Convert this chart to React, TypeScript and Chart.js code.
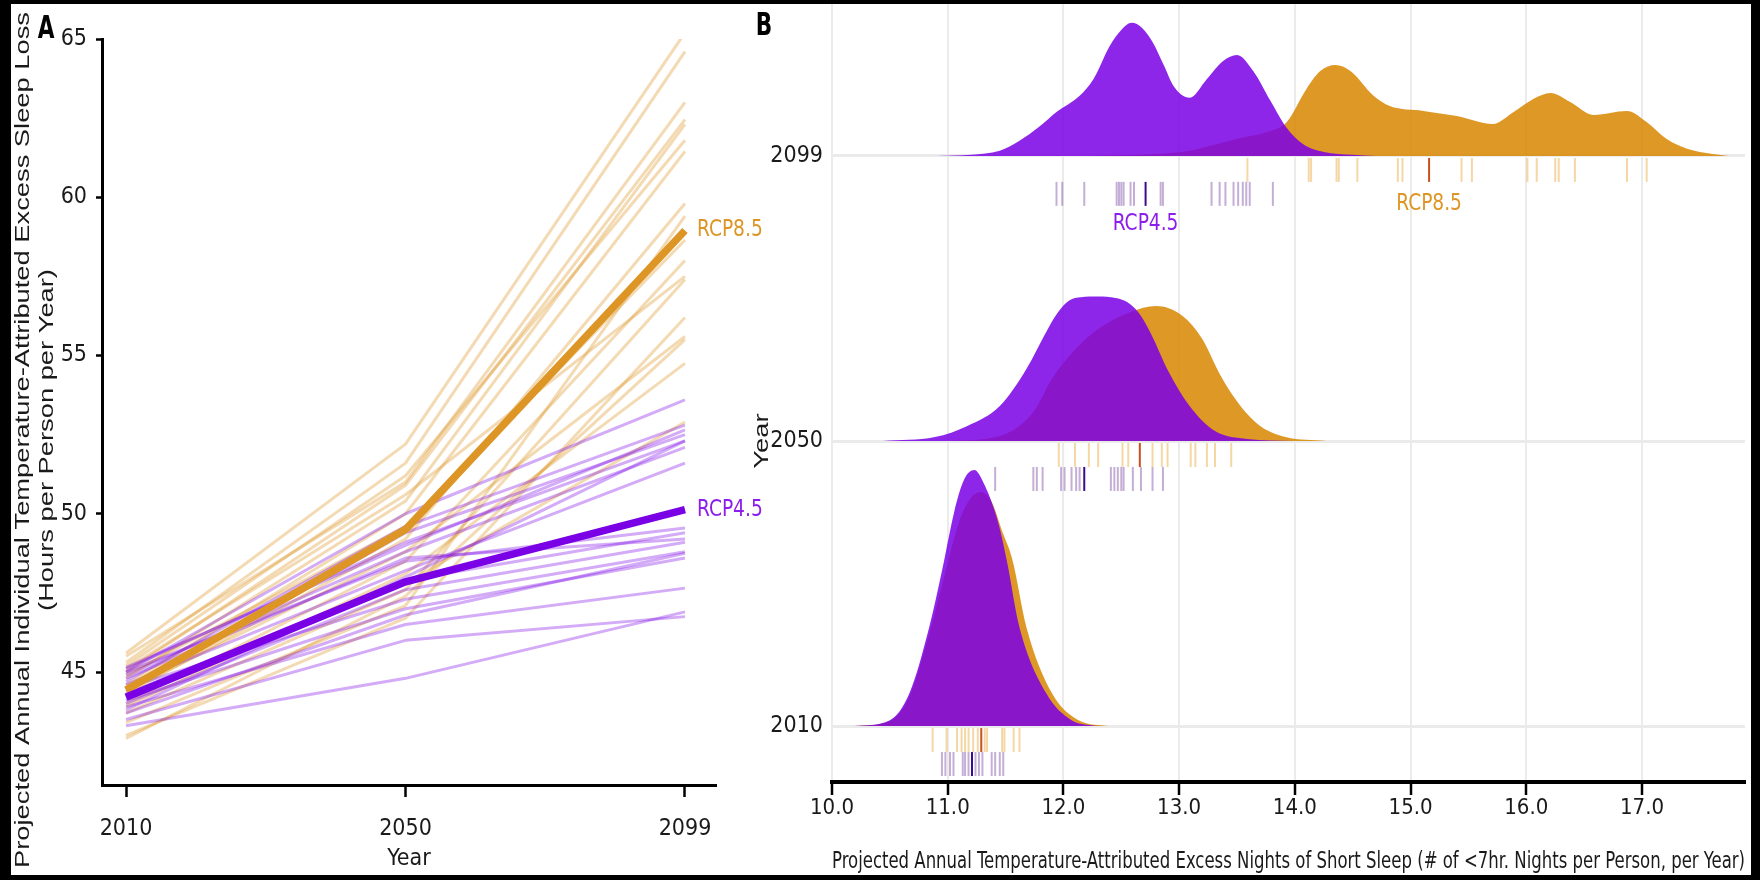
import React, { useEffect, useRef } from 'react';
import { Chart, registerables } from 'chart.js';

Chart.register(...registerables);

// ---------------- Panel A data ----------------
const yearsA = ['2010', '2050', '2099'];
const yTicksA = [45, 50, 55, 60, 65];
const rcp85Mean = [44.43, 49.5, 58.95];
const rcp45Mean = [44.2, 47.85, 50.13];
const rcp85Runs = [
  [45.6, 52.2, 65.2],
  [45.3, 51.6, 64.6],
  [45.5, 51.0, 63.0],
  [45.0, 50.9, 62.45],
  [44.8, 50.4, 62.3],
  [45.2, 51.2, 61.8],
  [44.6, 50.0, 61.45],
  [44.3, 49.2, 59.8],
  [43.4, 47.1, 59.4],
  [44.9, 49.6, 58.65],
  [44.0, 48.5, 58.0],
  [45.1, 50.6, 57.5],
  [43.7, 47.6, 57.4],
  [43.0, 46.7, 56.2],
  [44.4, 48.8, 55.6],
  [42.9, 47.4, 55.5],
  [43.9, 48.1, 54.75],
  [44.2, 47.8, 52.9],
];
const rcp45Runs = [
  [43.3, 44.8, 46.9],
  [43.5, 46.0, 46.75],
  [43.9, 46.5, 47.65],
  [44.1, 47.0, 48.6],
  [43.7, 46.8, 48.75],
  [44.5, 47.3, 48.8],
  [44.0, 47.6, 49.1],
  [44.8, 48.6, 49.2],
  [44.3, 47.9, 49.4],
  [45.0, 48.5, 49.55],
  [44.6, 48.2, 51.6],
  [44.9, 48.8, 52.1],
  [45.1, 49.1, 52.3],
  [44.4, 49.4, 52.5],
  [45.15, 49.0, 52.65],
  [44.7, 49.6, 52.8],
  [43.8, 48.0, 52.3],
  [45.0, 50.0, 53.6],
];

// ---------------- Panel B data ----------------
const ridgeYears = ['2010', '2050', '2099'];
const xTicksB = [10, 11, 12, 13, 14, 15, 16, 17];
// density heights, in units of the spacing between ridges: [nights, height]
const dens45_2010: [number, number][] = [[10.19, 0], [10.5, 0.021], [10.67, 0.116], [10.84, 0.347], [10.95, 0.544], [11.06, 0.758], [11.14, 0.863], [11.23, 0.898], [11.31, 0.853], [11.43, 0.723], [11.51, 0.582], [11.62, 0.347], [11.85, 0.116], [12.07, 0.021], [12.3, 0]];
const dens85_2010: [number, number][] = [[10.2, 0], [10.5, 0.018], [10.67, 0.105], [10.84, 0.323], [10.97, 0.526], [11.1, 0.719], [11.2, 0.8], [11.29, 0.821], [11.38, 0.786], [11.47, 0.684], [11.56, 0.582], [11.68, 0.347], [11.9, 0.116], [12.13, 0.021], [12.4, 0]];
const dens45_2050: [number, number][] = [[10.44, 0], [10.89, 0.014], [11.17, 0.053], [11.45, 0.123], [11.68, 0.253], [11.85, 0.382], [11.95, 0.45], [12.05, 0.493], [12.15, 0.504], [12.3, 0.507], [12.45, 0.502], [12.55, 0.488], [12.65, 0.45], [12.75, 0.382], [12.91, 0.242], [13.09, 0.123], [13.31, 0.035], [13.59, 0.007], [13.98, 0]];
const dens85_2050: [number, number][] = [[11.0, 0], [11.45, 0.018], [11.74, 0.102], [11.9, 0.218], [12.13, 0.333], [12.3, 0.393], [12.58, 0.453], [12.8, 0.474], [13.03, 0.439], [13.2, 0.358], [13.36, 0.228], [13.53, 0.123], [13.7, 0.053], [13.92, 0.014], [14.27, 0]];
const dens45_2099: [number, number][] = [[10.9, 0], [11.2, 0.004], [11.45, 0.018], [11.62, 0.053], [11.79, 0.102], [11.94, 0.154], [12.14, 0.211], [12.26, 0.27], [12.4, 0.386], [12.5, 0.442], [12.59, 0.467], [12.68, 0.449], [12.77, 0.4], [12.87, 0.316], [12.95, 0.246], [13.09, 0.204], [13.24, 0.27], [13.38, 0.333], [13.5, 0.354], [13.64, 0.298], [13.79, 0.193], [13.93, 0.098], [14.07, 0.042], [14.25, 0.014], [14.5, 0.004], [14.7, 0]];
const dens85_2099: [number, number][] = [[12.2, 0], [12.8, 0.007], [13.09, 0.018], [13.3, 0.039], [13.53, 0.063], [13.76, 0.084], [13.93, 0.119], [14.1, 0.235], [14.22, 0.298], [14.35, 0.319], [14.48, 0.298], [14.68, 0.211], [14.82, 0.175], [15.11, 0.158], [15.4, 0.14], [15.71, 0.112], [15.89, 0.154], [16.06, 0.2], [16.21, 0.221], [16.38, 0.189], [16.58, 0.144], [16.87, 0.158], [17.04, 0.119], [17.21, 0.06], [17.39, 0.025], [17.61, 0.007], [17.75, 0]];

const rug85_2010 = [10.87, 10.99, 11.08, 11.12, 11.15, 11.18, 11.22, 11.26, 11.32, 11.34, 11.47, 11.49, 11.57, 11.62];
const rug45_2010 = [10.95, 10.98, 11.02, 11.05, 11.13, 11.15, 11.18, 11.24, 11.27, 11.3, 11.38, 11.41, 11.45, 11.48];
const rug85_2050 = [11.96, 12.1, 12.22, 12.3, 12.51, 12.56, 12.77, 12.85, 12.9, 13.1, 13.14, 13.24, 13.31, 13.45];
const rug45_2050 = [11.41, 11.74, 11.77, 11.82, 11.98, 12.01, 12.07, 12.11, 12.14, 12.41, 12.44, 12.47, 12.5, 12.52, 12.6, 12.67, 12.77, 12.86];
const rug85_2099 = [13.59, 14.12, 14.14, 14.36, 14.38, 14.54, 14.89, 14.93, 15.44, 15.53, 16.01, 16.09, 16.25, 16.28, 16.42, 16.87, 17.04];
const rug45_2099 = [11.94, 11.99, 12.18, 12.46, 12.48, 12.5, 12.52, 12.58, 12.61, 12.84, 12.86, 13.28, 13.35, 13.4, 13.47, 13.51, 13.55, 13.58, 13.61, 13.81];
const rugMark45 = [11.21, 12.18, 12.71];
const rugMark85 = [11.29, 12.66, 15.16];

// ---------------- styles ----------------
const NARROW = "'Liberation Sans Narrow', 'Arial Narrow', 'DejaVu Sans Condensed', sans-serif";
const SANS = "'Liberation Sans', Arial, sans-serif";
const INK = '#1a1a1a';
const ORANGE = '#dd9626';
const ORANGE_T = 'rgba(221,150,38,0.35)';
const PURPLE = '#7a00e6';
const PURPLE_T = 'rgba(122,0,230,0.33)';
const ORANGE_FILL = 'rgba(216,134,0,0.85)';
const PURPLE_FILL = 'rgba(122,0,230,0.85)';
const ORANGE_RUG = 'rgba(230,160,40,0.42)';
const PURPLE_RUG = 'rgba(125,75,165,0.45)';
const ORANGE_MARK = '#c8501e';
const PURPLE_MARK = '#3c0a8c';
const LABEL85 = '#dd9626';
const LABEL45 = '#8c1eeb';

function drawText(ctx: CanvasRenderingContext2D, text: string, x: number, y: number, o: any) {
  ctx.save();
  ctx.translate(x, y);
  if (o.rotate) ctx.rotate(o.rotate);
  ctx.scale(o.sx ?? 1, o.sy ?? 1);
  ctx.font = o.font;
  ctx.fillStyle = o.color;
  ctx.textAlign = o.align ?? 'center';
  ctx.textBaseline = 'middle';
  ctx.fillText(text, 0, 0);
  ctx.restore();
}

const lineDs = (vals: number[], color: string, width: number, order: number) => ({
  data: vals.map((v, i) => ({ x: i, y: v })),
  borderColor: color,
  borderWidth: width,
  pointRadius: 0,
  fill: false,
  tension: 0,
  borderJoinStyle: 'round',
  order,
});

const densDs = (pts: [number, number][], base: number, color: string, order: number) => ({
  data: pts.map(([x, h]) => ({ x, y: base + h })),
  borderColor: 'rgba(0,0,0,0)',
  borderWidth: 0,
  backgroundColor: color,
  pointRadius: 0,
  cubicInterpolationMode: 'monotone',
  fill: { value: base },
  order,
});

const RUG85_OFF = 0.049;
const RUG45_OFF = 0.133;
const rugDs = (sets: number[][], off: number, color: string, order: number) => ({
  data: sets.flatMap((xs, k) => xs.map((x) => ({ x, y: k - off }))),
  showLine: false,
  pointStyle: 'line',
  pointRotation: 90,
  pointRadius: 12,
  pointBorderWidth: 2,
  pointBorderColor: color,
  pointBackgroundColor: color,
  order,
});

const noEdgePadding = (s: any) => {
  s.paddingTop = 0;
  s.paddingBottom = 0;
  s.paddingLeft = 0;
  s.paddingRight = 0;
};

export default function App() {
  const refA = useRef<HTMLCanvasElement>(null);
  const refB = useRef<HTMLCanvasElement>(null);

  useEffect(() => {
    const plugA = {
      id: 'textA',
      afterDraw(chart: any) {
        const ctx = chart.ctx as CanvasRenderingContext2D;
        const xs = chart.scales.x;
        const ys = chart.scales.y;
        drawText(ctx, 'A', 46, 30, { font: `bold 24px ${NARROW}`, color: '#000', sy: 1.3 });
        drawText(ctx, 'Projected Annual Individual Temperature-Attributed Excess Sleep Loss', 23, 440, {
          font: `21px ${SANS}`, color: INK, rotate: -Math.PI / 2, sx: 1.3,
        });
        drawText(ctx, '(Hours per Person per Year)', 47, 440, {
          font: `21px ${SANS}`, color: INK, rotate: -Math.PI / 2, sx: 1.3,
        });
        const xe = xs.getPixelForValue(2) + 12;
        drawText(ctx, 'RCP8.5', xe, ys.getPixelForValue(rcp85Mean[2]), { font: `23px ${NARROW}`, color: LABEL85, align: 'left', sx: 0.9 });
        drawText(ctx, 'RCP4.5', xe, ys.getPixelForValue(rcp45Mean[2]), { font: `23px ${NARROW}`, color: LABEL45, align: 'left', sx: 0.9 });
      },
    };

    const plugB = {
      id: 'textB',
      afterDraw(chart: any) {
        const ctx = chart.ctx as CanvasRenderingContext2D;
        const xs = chart.scales.x;
        const ys = chart.scales.y;
        drawText(ctx, 'B', 764, 27, { font: `bold 24px ${NARROW}`, color: '#000', sy: 1.3 });
        drawText(ctx, 'Year', 762, 441, { font: `21px ${SANS}`, color: INK, rotate: -Math.PI / 2, sx: 1.3 });
        const top = ridgeYears.length - 1;
        const by = ys.getPixelForValue(top);
        drawText(ctx, 'RCP8.5', xs.getPixelForValue(rugMark85[top]), by + 48, { font: `23px ${NARROW}`, color: LABEL85, sx: 0.9 });
        drawText(ctx, 'RCP4.5', xs.getPixelForValue(rugMark45[top]), by + 68, { font: `23px ${NARROW}`, color: LABEL45, sx: 0.9 });
      },
    };

    const cfgA: any = {
      type: 'line',
      data: {
        datasets: [
          lineDs(rcp45Mean, PURPLE, 7.5, 1),
          lineDs(rcp85Mean, ORANGE, 7.5, 2),
          ...rcp45Runs.map((r) => lineDs(r, PURPLE_T, 3, 3)),
          ...rcp85Runs.map((r) => lineDs(r, ORANGE_T, 3, 4)),
        ],
      },
      options: {
        responsive: false,
        animation: false,
        devicePixelRatio: 1,
        events: [],
        layout: { autoPadding: false, padding: { left: 10, top: 39, right: 1044, bottom: 4 } },
        plugins: { legend: { display: false }, tooltip: { enabled: false } },
        scales: {
          x: {
            type: 'linear',
            min: -0.086,
            max: 2.111,
            afterBuildTicks: (s: any) => { s.ticks = yearsA.map((_, i) => ({ value: i })); },
            afterFit: (s: any) => { s.height = 91; noEdgePadding(s); },
            ticks: {
              font: { family: NARROW, size: 23 }, color: INK, padding: 18, maxRotation: 0, autoSkip: false,
              callback: (v: any) => yearsA[v] ?? '',
            },
            grid: { drawOnChartArea: false, drawTicks: true, tickLength: 12, tickColor: '#000', tickWidth: 2.5, color: '#000' },
            border: { display: true, color: '#000', width: 3 },
            title: { display: true, text: 'Year', font: { family: NARROW, size: 23 }, color: INK, padding: { top: 0, bottom: 3 } },
          },
          y: {
            type: 'linear',
            min: 41.43,
            max: 65,
            afterBuildTicks: (s: any) => { s.ticks = yTicksA.map((v) => ({ value: v })); },
            afterFit: (s: any) => { s.width = 92; noEdgePadding(s); },
            ticks: { font: { family: NARROW, size: 23 }, color: INK, padding: 9, autoSkip: false },
            grid: { drawOnChartArea: false, drawTicks: true, tickLength: 6, tickColor: '#000', tickWidth: 2.5, color: '#000' },
            border: { display: true, color: '#000', width: 3 },
          },
        },
      },
      plugins: [plugA],
    };

    const cfgB: any = {
      type: 'line',
      data: {
        datasets: [
          densDs(dens85_2010, 0, ORANGE_FILL, 20),
          densDs(dens85_2050, 1, ORANGE_FILL, 20),
          densDs(dens85_2099, 2, ORANGE_FILL, 20),
          densDs(dens45_2010, 0, PURPLE_FILL, 10),
          densDs(dens45_2050, 1, PURPLE_FILL, 10),
          densDs(dens45_2099, 2, PURPLE_FILL, 10),
          rugDs([rug85_2010, rug85_2050, rug85_2099], RUG85_OFF, ORANGE_RUG, 5),
          rugDs([rug45_2010, rug45_2050, rug45_2099], RUG45_OFF, PURPLE_RUG, 5),
          rugDs(rugMark85.map((v) => [v]), RUG85_OFF, ORANGE_MARK, 1),
          rugDs(rugMark45.map((v) => [v]), RUG45_OFF, PURPLE_MARK, 1),
        ],
      },
      options: {
        responsive: false,
        animation: false,
        devicePixelRatio: 1,
        events: [],
        layout: { autoPadding: false, padding: { left: 750, top: 4, right: 15, bottom: 0 } },
        plugins: { legend: { display: false }, tooltip: { enabled: false } },
        scales: {
          x: {
            type: 'linear',
            min: 10,
            max: 17.89,
            afterBuildTicks: (s: any) => { s.ticks = xTicksB.map((v) => ({ value: v })); },
            afterFit: (s: any) => { s.height = 98; noEdgePadding(s); },
            ticks: {
              font: { family: NARROW, size: 22 }, color: INK, padding: 0, maxRotation: 0, autoSkip: false,
              callback: (v: any) => Number(v).toFixed(1),
            },
            grid: { drawOnChartArea: true, color: '#ebebeb', lineWidth: 2, drawTicks: true, tickLength: 13, tickColor: '#000', tickWidth: 2.5 },
            border: { display: true, color: '#000', width: 4 },
            title: {
              display: true,
              text: 'Projected Annual Temperature-Attributed Excess Nights of Short Sleep (# of <7hr. Nights per Person, per Year)',
              font: { family: NARROW, size: 22.8 }, color: INK, padding: { top: 0, bottom: 4 },
            },
          },
          y: {
            type: 'linear',
            min: -0.196,
            max: 2.533,
            afterBuildTicks: (s: any) => { s.ticks = ridgeYears.map((_, i) => ({ value: i })); },
            afterFit: (s: any) => { s.width = 82; noEdgePadding(s); },
            ticks: {
              font: { family: NARROW, size: 23 }, color: INK, padding: 9, autoSkip: false,
              callback: (v: any) => ridgeYears[v] ?? '',
            },
            grid: { drawOnChartArea: true, color: '#ebebeb', lineWidth: 3, drawTicks: false },
            border: { display: false },
          },
        },
      },
      plugins: [plugB],
    };

    const a = new Chart(refA.current as HTMLCanvasElement, cfgA);
    const b = new Chart(refB.current as HTMLCanvasElement, cfgB);
    return () => {
      a.destroy();
      b.destroy();
    };
  }, []);

  const cstyle: React.CSSProperties = { position: 'absolute', left: 0, top: 0, width: 1760, height: 880 };
  return (
    <div style={{ position: 'fixed', left: 0, top: 0, width: 1760, height: 880, background: '#000', overflow: 'hidden' }}>
      <div style={{ position: 'absolute', left: 11, top: 4, right: 9, bottom: 5, background: '#fff' }} />
      <canvas ref={refA} width={1760} height={880} style={cstyle} />
      <canvas ref={refB} width={1760} height={880} style={cstyle} />
    </div>
  );
}
